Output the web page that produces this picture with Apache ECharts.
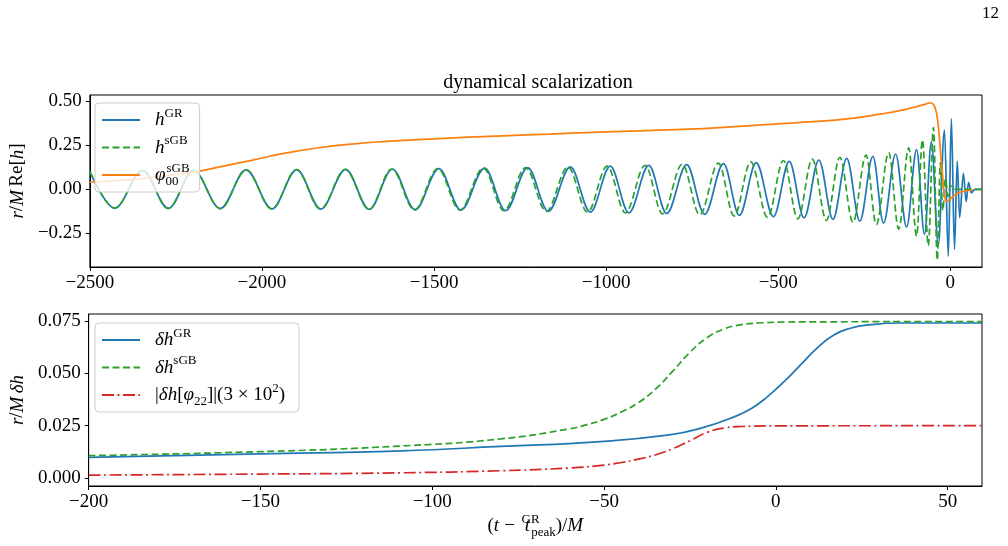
<!DOCTYPE html>
<html>
<head>
<meta charset="utf-8">
<script src="https://cdn.jsdelivr.net/npm/echarts@6/dist/echarts.min.js"></script>
<style>
  html, body { margin: 0; padding: 0; background: #fff; }
  #chart { width: 1008px; height: 546px; }
</style>
</head>
<body>
<div id="chart"></div>
<script>
// top panel: waveform extrema
const tGR = [-2500, -2428, -2347, -2272, -2199, -2121, -2046, -1971, -1899, -1829, -1757, -1688, -1621, -1555,
    -1486, -1422, -1353, -1292, -1228, -1168, -1104, -1046, -988, -934, -876, -824, -766, -714, -659, -613,
    -564, -514, -468, -425, -382, -341, -301, -263, -225, -194, -159, -127, -98, -75, -55, -35, -17, -6,
    3, 12, 20, 27, 38, 46, 53, 61, 72, 92];
const hGR = [0.10, -0.107, 0.107, -0.108, 0.108, -0.109, 0.110, -0.111, 0.111, -0.112, 0.113, -0.114, 0.115, -0.116,
    0.117, -0.118, 0.120, -0.121, 0.123, -0.125, 0.127, -0.129, 0.131, -0.133, 0.135, -0.137, 0.140, -0.142, 0.145, -0.148,
    0.151, -0.155, 0.158, -0.162, 0.166, -0.170, 0.175, -0.180, 0.186, -0.192, 0.200, -0.213, 0.225, -0.255, 0.27, -0.315, 0.335, -0.38,
    0.40, -0.34, 0.16, -0.16, 0.09, -0.07, 0.04, -0.02, 0.0, 0.0];

const tSGB = [-2500, -2428, -2347, -2272, -2199, -2121, -2046, -1971, -1900, -1830, -1758, -1689, -1623, -1557,
    -1489, -1425, -1357, -1297, -1234, -1174, -1111, -1054, -997, -944, -887, -836, -779, -728, -674, -628,
    -580, -531, -485, -443, -401, -360, -321, -283, -245, -215, -179, -150, -121, -98, -81, -64, -49, -38,
    -29, -22, -14, -7, 0, 14, 92];
const hSGB = [0.10, -0.107, 0.107, -0.108, 0.108, -0.109, 0.110, -0.111, 0.111, -0.112, 0.113, -0.114, 0.115, -0.116,
    0.117, -0.118, 0.120, -0.121, 0.123, -0.125, 0.127, -0.129, 0.131, -0.134, 0.136, -0.139, 0.142, -0.145, 0.148, -0.151,
    0.155, -0.159, 0.163, -0.167, 0.171, -0.176, 0.181, -0.187, 0.193, -0.200, 0.208, -0.225, 0.235, -0.265, 0.28, -0.32, 0.35, -0.40,
    0.15, -0.12, 0.06, -0.04, 0.02, 0, 0];

const tPhi = [-2500, -2400, -2300, -2200, -2130, -2030, -1936, -1840, -1740, -1650, -1500, -1300, -1165, -1000,
    -780, -600, -490, -400, -300, -200, -140, -107, -80, -64, -58, -52, -46, -40, -34, -28, -23, -17, -10, 0, 14, 34, 66];
const phi00 = [0.04, 0.052, 0.072, 0.097, 0.124, 0.164, 0.203, 0.234, 0.256, 0.27, 0.286, 0.303, 0.313, 0.325,
    0.339, 0.358, 0.372, 0.383, 0.399, 0.427, 0.448, 0.464, 0.478, 0.487, 0.49, 0.485, 0.47, 0.43, 0.34, 0.2, 0.09, -0.03, -0.068, -0.055, -0.03, -0.013, -0.004];

// bottom panel
const tDGR = [-200, -150, -109, -80, -51, -31, -22, -12, -7, -2.4, 2.4, 7.2, 12, 17, 22, 27, 36, 60];
const dGR = [0.0099, 0.0115, 0.013, 0.0151, 0.0174, 0.0206, 0.0237, 0.0293, 0.0333, 0.0389, 0.046, 0.054, 0.062, 0.0684, 0.0716, 0.0731, 0.074, 0.074];

const tDSGB = [-200, -150, -109, -80, -60, -55, -50, -45, -40, -35, -30, -25, -20, -15, -10, -5, 5, 60];
const dSGB = [0.0107, 0.0126, 0.0153, 0.0187, 0.0235, 0.0255, 0.028, 0.0315, 0.036, 0.0425, 0.051, 0.06, 0.067, 0.0712, 0.0732, 0.074, 0.0745, 0.0747];

const tD22 = [-200, -150, -109, -80, -60, -50, -45, -40, -35, -30, -25, -20, -15, -10, 0, 60];
const d22 = [0.0014, 0.0019, 0.0025, 0.0035, 0.0048, 0.0062, 0.0074, 0.009, 0.0111, 0.014, 0.0178, 0.0218, 0.0239, 0.0246, 0.0249, 0.025];

// ticks
const topXTicks = [-2500, -2000, -1500, -1000, -500, 0];
const botXTicks = [-200, -150, -100, -50, 0, 50];
const topYTicks = [-0.25, 0, 0.25, 0.5];
const botYTicks = [0, 0.025, 0.05, 0.075];

const SERIF = 'Liberation Serif, Times New Roman, serif';

function pairs(xs, ys) {
    return xs.map((x, i) => [x, ys[i]]);
}

function minus(s) {
    return String(s).replace('-', '\u2212');
}

const rich = {
    i: {fontFamily: SERIF, fontStyle: 'italic', fontSize: 19, lineHeight: 26, color: '#000'},
    r: {fontFamily: SERIF, fontSize: 19, lineHeight: 26, color: '#000'},
    gap: {fontFamily: SERIF, fontSize: 19, lineHeight: 26, width: 5, color: 'rgba(0,0,0,0)'},
    gap2: {fontFamily: SERIF, fontSize: 19, lineHeight: 26, width: 10, color: 'rgba(0,0,0,0)'},
    sup: {fontFamily: SERIF, fontSize: 13, lineHeight: 13, verticalAlign: 'top', color: '#000'},
    supw: {fontFamily: SERIF, fontSize: 13, lineHeight: 13, verticalAlign: 'top', color: '#000', width: 1},
    sub: {fontFamily: SERIF, fontSize: 13, lineHeight: 13, verticalAlign: 'bottom', color: '#000'},
    subw: {fontFamily: SERIF, fontSize: 13, lineHeight: 13, verticalAlign: 'bottom', color: '#000', width: 1}
};

const legendText = {
    hGR: '{i|h}{sup|GR}',
    hSGB: '{i|h}{sup|sGB}',
    phi: '{i|φ}{subw|00}{sup|sGB}',
    dGR: '{i|δh}{sup|GR}',
    dSGB: '{i|δh}{sup|sGB}',
    d22: '{r||}{i|δh}{r|[}{i|φ}{sub|22}{r|]|(3 × 10}{sup|2}{r|)}'
};

function xAxis(grid, min, max, ticks) {
    return {
        type: 'value', gridIndex: grid, min: min, max: max,
        axisLine: {show: true, onZero: false, lineStyle: {color: '#000', width: 1}},
        axisTick: {show: true, inside: false, length: 4, customValues: ticks, lineStyle: {color: '#000'}},
        axisLabel: {color: '#000', fontFamily: SERIF, fontSize: 19, margin: 7, customValues: ticks,
            formatter: v => minus(v)},
        splitLine: {show: false}
    };
}

function yAxis(grid, min, max, ticks, digits) {
    return {
        type: 'value', gridIndex: grid, min: min, max: max,
        axisLine: {show: true, onZero: false, lineStyle: {color: '#000', width: 1}},
        axisTick: {show: true, inside: false, length: 4, customValues: ticks, lineStyle: {color: '#000'}},
        axisLabel: {color: '#000', fontFamily: SERIF, fontSize: 19, margin: 8, customValues: ticks,
            formatter: v => minus(v.toFixed(digits))},
        splitLine: {show: false},
        nameLocation: 'middle', nameRotate: 90, nameGap: 53,
        nameTextStyle: {rich: rich, color: '#000'}
    };
}

function line(name, xi, xs, ys, color, type, wave) {
    return {
        name: name, type: 'line', xAxisIndex: xi, yAxisIndex: xi,
        data: pairs(xs, ys), symbol: 'none', showSymbol: false,
        smooth: wave ? 0.35 : 0.5, smoothMonotone: wave ? 'x' : null,
        lineStyle: {color: color, width: 1.7, type: type},
        itemStyle: {color: color}, silent: true
    };
}

function legend(names, top, gap, padRight) {
    return {
        data: names, orient: 'vertical', left: 95, top: top,
        itemWidth: 38, itemHeight: 12, itemGap: gap,
        padding: [4, padRight, 4, 6],
        backgroundColor: 'rgba(255,255,255,0.8)', borderColor: '#cccccc', borderWidth: 1, borderRadius: 4,
        itemStyle: {opacity: 0},
        formatter: n => legendText[n],
        textStyle: {rich: rich, padding: [0, 0, 0, 10]},
        selectedMode: false
    };
}

const chart = echarts.init(document.getElementById('chart'), null, {renderer: 'canvas'});
const yTop = yAxis(0, -0.44, 0.534, topYTicks, 2);
yTop.name = '{i|r}{r|/}{i|M} {r|Re[}{i|h}{r|]}';
const yBot = yAxis(1, -0.0038, 0.0783, botYTicks, 3);
yBot.name = '{i|r}{r|/}{i|M} {i|δh}';
const xBot = xAxis(1, -200, 60, botXTicks);
xBot.name = '{r|(}{i|t}{gap|.}{r|−}{gap2|.}{i|t}{supw|GR}{sub|peak}{r|)/}{i|M}';
xBot.nameLocation = 'middle';
xBot.nameGap = 24;
xBot.nameTextStyle = {rich: rich, color: '#000'};

chart.setOption({
    animation: false,
    backgroundColor: '#fff',
    title: {
        text: 'dynamical scalarization', left: 533, top: 68, textAlign: 'center',
        textStyle: {fontFamily: SERIF, fontWeight: 'normal', fontSize: 20, color: '#000'}
    },
    graphic: [{
        type: 'text', right: 9, top: 5,
        style: {text: '12', fontFamily: SERIF, fontSize: 17, fill: '#000'}
    }],
    grid: [
        {left: 85, top: 95, width: 897, height: 172, show: true, borderColor: '#000', borderWidth: 1, backgroundColor: 'transparent'},
        {left: 85, top: 314, width: 897, height: 172, show: true, borderColor: '#000', borderWidth: 1, backgroundColor: 'transparent'}
    ],
    xAxis: [xAxis(0, -2500, 92, topXTicks), xBot],
    yAxis: [yTop, yBot],
    legend: [legend(['hGR', 'hSGB', 'phi'], 103, 5, 10), legend(['dGR', 'dSGB', 'd22'], 323, 5, 14)],
    series: [
        line('hGR', 0, tGR, hGR, '#1f77b4', 'solid', true),
        line('hSGB', 0, tSGB, hSGB, '#2ca02c', [7, 3.5], true),
        line('phi', 0, tPhi, phi00, '#ff7f0e', 'solid', false),
        line('dGR', 1, tDGR, dGR, '#1f77b4', 'solid', false),
        line('dSGB', 1, tDSGB, dSGB, '#2ca02c', [7, 3.5], false),
        line('d22', 1, tD22, d22, '#d62728', [12, 3.5, 2, 3.5], false)
    ]
});
</script>
</body>
</html>
